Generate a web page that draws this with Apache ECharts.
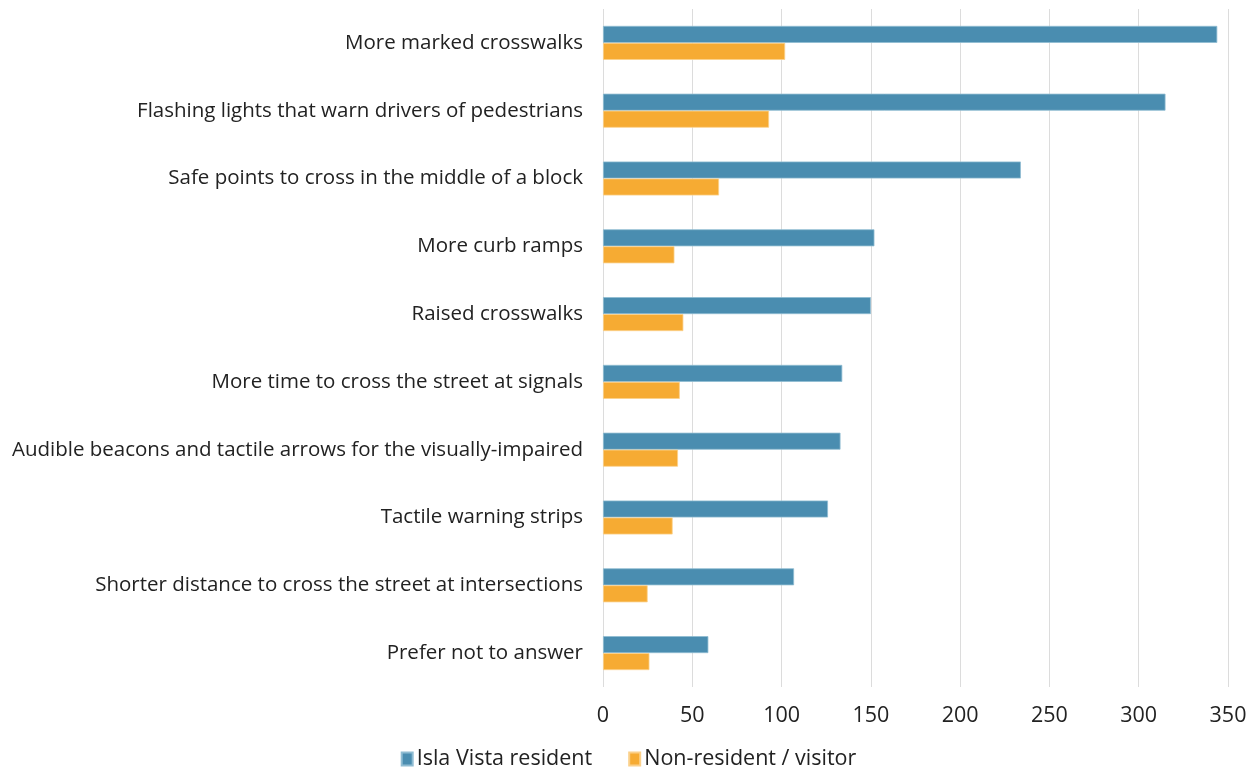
<!DOCTYPE html>
<html>
<head>
<meta charset="utf-8">
<script src="https://cdn.jsdelivr.net/npm/echarts@6/dist/echarts.min.js"></script>
<style>
  html, body { margin: 0; padding: 0; background: #fff; }
  #chart { width: 1257px; height: 770px; }
</style>
</head>
<body>
<div id="chart"></div>
<script>
// Pedestrian improvements, number of responses by respondent group
const categories = [
  'More marked crosswalks',
  'Flashing lights that warn drivers of pedestrians',
  'Safe points to cross in the middle of a block',
  'More curb ramps',
  'Raised crosswalks',
  'More time to cross the street at signals',
  'Audible beacons and tactile arrows for the visually-impaired',
  'Tactile warning strips',
  'Shorter distance to cross the street at intersections',
  'Prefer not to answer'
];
const residentValues = [344, 315, 234, 152, 150, 134, 133, 126, 107, 59];
const visitorValues = [102, 93, 65, 40, 45, 43, 42, 39, 25, 26];
const seriesNames = ['Isla Vista resident', 'Non-resident / visitor'];

const FONT = '"Open Sans", Roboto, sans-serif';
const chart = echarts.init(document.getElementById('chart'), null, { renderer: 'canvas' });

chart.setOption({
  animation: false,
  backgroundColor: '#ffffff',
  grid: { left: 603, right: 29, top: 9, bottom: 83, containLabel: false },
  legend: {
    top: 743,
    left: 'center',
    itemWidth: 11,
    itemHeight: 13,
    itemGap: 36,
    icon: 'rect',
    textStyle: { fontFamily: FONT, fontSize: 21.5, color: '#222', padding: [0, 0, 0, -1] },
    data: seriesNames
  },
  xAxis: {
    type: 'value',
    min: 0,
    max: 350,
    interval: 50,
    axisLine: { show: false },
    axisTick: { show: false },
    splitLine: { show: true, lineStyle: { color: '#dcdcdc', width: 1 } },
    axisLabel: { fontFamily: FONT, fontSize: 21.5, color: '#222', margin: 18 }
  },
  yAxis: {
    type: 'category',
    inverse: true,
    data: categories,
    axisLine: { show: false },
    axisTick: { show: false },
    axisLabel: { fontFamily: FONT, fontSize: 20.5, color: '#222', margin: 20 }
  },
  series: [
    {
      name: seriesNames[0],
      type: 'bar',
      data: residentValues,
      barWidth: 17,
      barGap: '0%',
      itemStyle: { color: '#4a8db0', borderColor: '#8fbcd2', borderWidth: 0.8 }
    },
    {
      name: seriesNames[1],
      type: 'bar',
      data: visitorValues,
      barWidth: 17,
      barGap: '0%',
      itemStyle: { color: '#f6ab33', borderColor: '#fbd08a', borderWidth: 0.8 }
    }
  ]
});
</script>
</body>
</html>
